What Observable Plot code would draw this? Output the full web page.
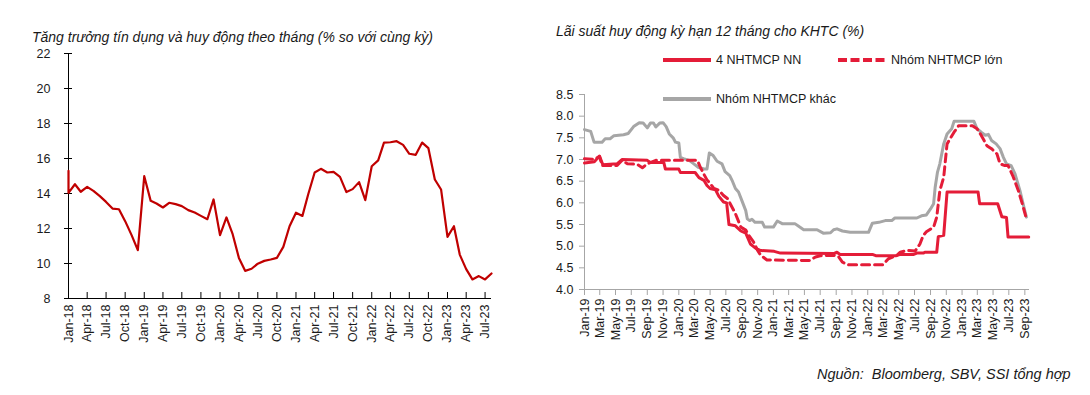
<!DOCTYPE html>
<html><head><meta charset="utf-8">
<script src="https://cdn.jsdelivr.net/npm/d3@7"></script>
<script src="https://cdn.jsdelivr.net/npm/@observablehq/plot@0.6"></script>
<style>
body{margin:0;background:#fff;width:1090px;height:395px;position:relative;overflow:hidden;font-family:"Liberation Sans Narrow","Arial Narrow","Liberation Sans",sans-serif;color:#1a1a1a}
.title{position:absolute;font-style:italic;font-size:14px;line-height:14px;white-space:nowrap}
.chart{position:absolute}
.leg{position:absolute;display:flex;align-items:center;font-size:12.5px;white-space:nowrap}
.leg svg{margin-right:5px}
#src{position:absolute;left:817px;top:367px;font-style:italic;font-size:14.5px;line-height:14px;white-space:nowrap}
</style></head><body>
<div class="title" style="left:32px;top:30px">Tăng trưởng tín dụng và huy động theo tháng (% so với cùng kỳ)</div>
<div class="title" style="left:556px;top:24px">Lãi suất huy động kỳ hạn 12 tháng cho KHTC (%)</div>
<div id="left" class="chart" style="left:0;top:40px"></div>
<div id="right" class="chart" style="left:540px;top:80px"></div>
<div class="leg" style="left:663px;top:52px"><svg width="48" height="16"><line x1="0" x2="48" y1="8" y2="8" stroke="#E41C38" stroke-width="4"/></svg>4 NHTMCP NN</div>
<div class="leg" style="left:838px;top:52px"><svg width="48" height="16"><line x1="0" x2="48" y1="8" y2="8" stroke="#E41C38" stroke-width="4" stroke-dasharray="9,3.5"/></svg>Nhóm NHTMCP lớn</div>
<div class="leg" style="left:663px;top:91px"><svg width="48" height="16"><line x1="0" x2="48" y1="8" y2="8" stroke="#A6A6A6" stroke-width="4"/></svg>Nhóm NHTMCP khác</div>
<div id="src">Nguồn:&nbsp; Bloomberg, SBV, SSI tổng hợp</div>
<script>
// ---- Left chart data: credit growth, % yoy (monthly) ----
const creditMonths = ["2018-01","2018-01","2018-02","2018-03","2018-04","2018-05","2018-06","2018-07","2018-08","2018-09","2018-10","2018-11","2018-12",
"2019-01","2019-02","2019-03","2019-04","2019-05","2019-06","2019-07","2019-08","2019-09","2019-10","2019-11","2019-12",
"2020-01","2020-02","2020-03","2020-04","2020-05","2020-06","2020-07","2020-08","2020-09","2020-10","2020-11","2020-12",
"2021-01","2021-02","2021-03","2021-04","2021-05","2021-06","2021-07","2021-08","2021-09","2021-10","2021-11","2021-12",
"2022-01","2022-02","2022-03","2022-04","2022-05","2022-06","2022-07","2022-08","2022-09","2022-10","2022-11","2022-12",
"2023-01","2023-02","2023-03","2023-04","2023-05","2023-06","2023-07","2023-08"];
const creditGrowth = [15.3,14.04,14.53,14.10,14.38,14.15,13.85,13.52,13.14,13.10,12.42,11.62,10.76,
14.99,13.58,13.43,13.20,13.47,13.39,13.28,13.05,12.91,12.72,12.53,13.66,
11.62,12.63,11.71,10.32,9.58,9.70,9.99,10.15,10.23,10.32,10.95,12.13,
12.90,12.72,13.96,15.20,15.41,15.20,15.24,14.95,14.08,14.25,14.65,13.62,
15.56,15.89,16.91,16.93,16.99,16.78,16.27,16.21,16.91,16.59,14.80,14.23,
11.52,12.13,10.51,9.68,9.09,9.28,9.09,9.43];
const leftYTicks = [8,10,12,14,16,18,20,22];

// ---- Right chart data: 12M deposit rates (%) ----
const nnDates = ["2019-01-01","2019-02-08","2019-02-28","2019-03-13","2019-05-07","2019-05-26","2019-09-01","2019-09-13","2019-11-04","2019-11-10","2020-01-01","2020-01-07","2020-03-04","2020-03-19","2020-04-07","2020-04-19","2020-05-01","2020-05-22","2020-06-04","2020-06-22","2020-07-04","2020-07-13","2020-08-07","2020-08-28","2020-09-16","2020-10-04","2020-10-25","2020-11-13","2021-01-04","2021-01-28","2021-08-22","2021-09-04","2021-09-16","2022-01-19","2022-02-01","2022-04-22","2022-05-07","2022-06-28","2022-07-10","2022-08-04","2022-08-10","2022-09-25","2022-10-01","2022-10-22","2022-11-04","2023-03-04","2023-03-10","2023-05-19","2023-06-04","2023-06-22","2023-06-28","2023-09-16"];
const nnRates = [6.92,6.95,7.08,6.88,6.90,7.00,6.98,6.93,6.93,6.78,6.78,6.70,6.70,6.58,6.52,6.40,6.33,6.30,6.15,6.02,6.00,5.50,5.47,5.35,5.30,5.05,4.95,4.90,4.88,4.84,4.83,4.86,4.81,4.81,4.78,4.78,4.81,4.81,4.84,4.84,4.86,4.86,5.22,5.25,6.25,6.25,5.98,5.98,5.68,5.66,5.21,5.21];

const bigDates = ["2019-01-01","2019-02-08","2019-02-28","2019-03-10","2019-05-07","2019-05-26","2019-06-16","2019-07-23","2019-08-13","2019-09-01","2019-10-04","2020-03-13","2020-03-25","2020-04-07","2020-04-19","2020-05-02","2020-05-16","2020-06-04","2020-06-22","2020-07-07","2020-07-25","2020-08-07","2020-08-28","2020-09-16","2020-09-28","2020-10-16","2020-11-01","2020-11-13","2020-12-07","2021-05-22","2021-06-13","2021-07-01","2021-08-22","2021-09-10","2021-09-25","2021-10-19","2022-03-01","2022-03-22","2022-04-22","2022-05-07","2022-06-01","2022-07-04","2022-07-22","2022-08-04","2022-08-16","2022-09-13","2022-09-25","2022-10-07","2022-10-22","2022-11-04","2022-11-16","2022-12-01","2022-12-19","2023-02-10","2023-02-28","2023-03-16","2023-04-07","2023-04-25","2023-05-16","2023-05-28","2023-06-16","2023-06-28","2023-07-16","2023-08-07","2023-08-22","2023-09-04"];
const bigRates = [7.02,7.00,7.07,6.86,6.86,6.98,6.90,6.89,6.81,6.90,6.98,6.98,6.81,6.66,6.53,6.44,6.33,6.29,6.17,6.10,5.90,5.75,5.44,5.37,5.25,5.10,4.90,4.79,4.68,4.67,4.75,4.78,4.79,4.76,4.63,4.57,4.57,4.71,4.78,4.86,4.90,4.89,5.05,5.25,5.33,5.44,5.67,6.28,6.59,7.36,7.48,7.63,7.78,7.78,7.71,7.56,7.32,7.25,7.13,6.90,6.86,6.86,6.63,6.28,5.98,5.70];

const otherDates = ["2019-01-01","2019-01-25","2019-02-07","2019-03-10","2019-03-22","2019-04-10","2019-04-25","2019-06-01","2019-06-19","2019-07-10","2019-08-01","2019-08-16","2019-09-01","2019-09-13","2019-09-25","2019-10-04","2019-10-19","2019-11-01","2019-11-13","2019-11-25","2019-12-10","2019-12-19","2020-01-01","2020-01-07","2020-01-19","2020-02-10","2020-02-28","2020-03-16","2020-04-07","2020-04-19","2020-04-28","2020-05-13","2020-05-28","2020-06-16","2020-06-28","2020-07-16","2020-07-25","2020-08-07","2020-08-19","2020-09-01","2020-09-16","2020-09-22","2020-10-01","2020-10-10","2020-10-22","2020-11-19","2020-11-28","2021-01-01","2021-01-16","2021-02-04","2021-03-25","2021-04-13","2021-04-28","2021-06-19","2021-07-13","2021-08-10","2021-08-22","2021-09-04","2021-09-25","2021-10-25","2022-01-04","2022-01-19","2022-02-13","2022-03-10","2022-04-04","2022-04-16","2022-07-10","2022-07-28","2022-08-16","2022-09-01","2022-09-13","2022-09-19","2022-09-28","2022-10-07","2022-10-22","2022-11-04","2022-11-22","2022-12-01","2023-02-16","2023-02-28","2023-03-16","2023-04-01","2023-04-13","2023-04-25","2023-05-13","2023-05-28","2023-06-10","2023-06-22","2023-07-10","2023-07-25","2023-08-13","2023-08-25","2023-09-07"];
const otherRates = [7.69,7.65,7.40,7.40,7.48,7.48,7.55,7.57,7.60,7.76,7.85,7.84,7.73,7.84,7.84,7.75,7.84,7.85,7.76,7.59,7.50,7.40,7.38,7.05,7.02,6.98,6.90,6.82,6.78,6.78,7.15,7.09,6.96,6.90,6.72,6.63,6.52,6.33,6.25,6.05,5.82,5.63,5.59,5.62,5.55,5.55,5.44,5.44,5.58,5.52,5.52,5.44,5.38,5.38,5.30,5.31,5.38,5.40,5.35,5.32,5.32,5.53,5.55,5.59,5.59,5.65,5.65,5.70,5.72,5.86,5.98,6.36,6.71,6.90,7.36,7.59,7.71,7.88,7.88,7.71,7.63,7.56,7.58,7.44,7.36,7.25,7.05,6.90,6.86,6.67,6.28,5.98,5.67];
const rightYTicks = [4.0,4.5,5.0,5.5,6.0,6.5,7.0,7.5,8.0,8.5];

const parseM = d3.utcParse("%Y-%m");
const parseD = d3.utcParse("%Y-%m-%d");
const fmt = d3.utcFormat("%b-%y");
const FONT = '"Liberation Sans Narrow","Arial Narrow","Liberation Sans",sans-serif';

const credit = creditMonths.map((m, i) => ({date: parseM(m), value: creditGrowth[i]}));
const series = (ds, vs) => ds.map((d, i) => ({date: parseD(d), value: vs[i]}));
const nn = series(nnDates, nnRates), big = series(bigDates, bigRates), other = series(otherDates, otherRates);

const lx0 = parseM("2018-01"), lx1 = parseM("2023-08");
const leftXTicks = d3.utcMonth.every(3).range(lx0, parseM("2023-08"));
const left = Plot.plot({
  width: 500, height: 320,
  marginLeft: 68, marginRight: 9, marginTop: 13, marginBottom: 62,
  x: {type: "utc", domain: [lx0, lx1]},
  y: {domain: [8, 22]},
  style: {fontFamily: FONT, fontSize: "12.5px", color: "#1a1a1a", background: "transparent", overflow: "visible"},
  marks: [
    Plot.ruleY([8], {stroke: "#000"}),
    Plot.ruleX([lx0], {stroke: "#000"}),
    Plot.axisY(leftYTicks, {tickSize: 8, dx: 4, tickPadding: 14, label: null, stroke: "#000"}),
    Plot.axisX(leftXTicks, {tickSize: 6, dy: -6, tickPadding: 6, tickRotate: -90, tickFormat: fmt, label: null, stroke: "#000"}),
    Plot.line(credit, {x: "date", y: "value", stroke: "#C00000", strokeWidth: 2.2})
  ]
});
document.getElementById("left").append(left);

const rx0 = parseD("2019-01-01"), rx1 = parseD("2023-09-19");
const rightXTicks = d3.utcMonth.every(2).range(rx0, rx1);
const right = Plot.plot({
  width: 500, height: 270,
  marginLeft: 44, marginRight: 11, marginTop: 14, marginBottom: 61,
  x: {type: "utc", domain: [rx0, rx1]},
  y: {domain: [4, 8.5]},
  style: {fontFamily: FONT, fontSize: "12.5px", color: "#1a1a1a", background: "transparent", overflow: "visible"},
  marks: [
    Plot.ruleY([4], {stroke: "#A6A6A6"}),
    Plot.ruleX([rx0], {stroke: "#A6A6A6"}),
    Plot.axisY(rightYTicks, {tickSize: 5, tickPadding: 6, tickFormat: d3.format(".1f"), label: null, stroke: "#A6A6A6", fill: "#1a1a1a"}),
    Plot.axisX(rightXTicks, {tickSize: 6, tickPadding: 3, tickRotate: -90, tickFormat: fmt, label: null, stroke: "#A6A6A6", fill: "#1a1a1a"}),
    Plot.line(other, {x: "date", y: "value", stroke: "#A6A6A6", strokeWidth: 3}),
    Plot.line(nn, {x: "date", y: "value", stroke: "#E41C38", strokeWidth: 3}),
    Plot.line(big, {x: "date", y: "value", stroke: "#E41C38", strokeWidth: 3, strokeDasharray: "8,5"})
  ]
});
document.getElementById("right").append(right);
</script>
</body></html>
